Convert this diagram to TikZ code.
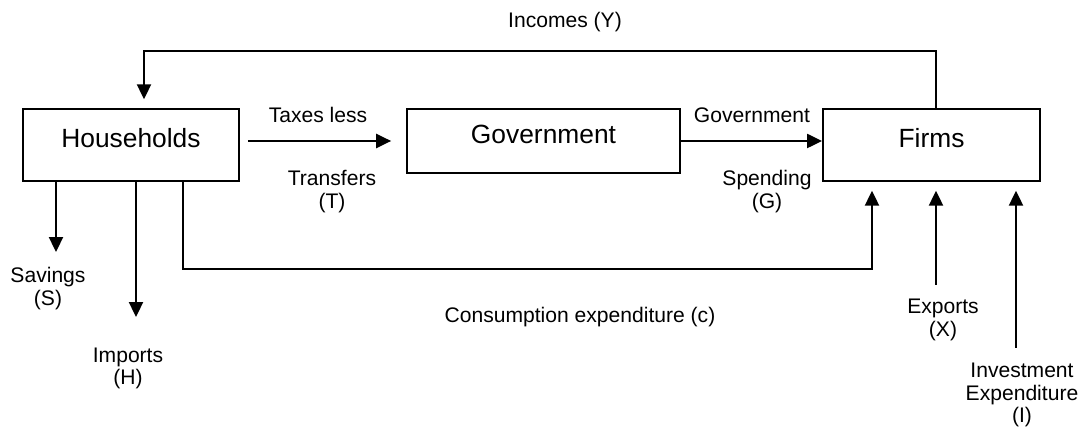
\documentclass[tikz,border=0pt]{standalone}
\usepackage{fontspec}
\setmainfont{Liberation Sans}
\usetikzlibrary{
    arrows.meta,
    positioning,
    calc
}
\tikzset{
    sector/.style = {
        rectangle,
        draw,
        line width=1.1pt,
        minimum height=1.44cm,
        font=\fontsize{15}{18}\selectfont,
        text height=11pt,
        text depth=8pt
    },
    flowlabel/.style = {
        align=center,
        inner sep=0pt,
        font=\fontsize{12}{13}\selectfont
    },
    arrow/.style = {
        -{Triangle[length=8.5pt,width=8pt]},
        line width=1.1pt
    }
}

\begin{document}
\begin{tikzpicture}[x=0.02cm, y=-0.02cm]
\useasboundingbox (0,0) rectangle (1083,431);

\node (hh) [sector, minimum width=4.32cm] at (131,145) {Households};
\node (gov) [sector, minimum width=5.46cm, minimum height=1.28cm] at (543.5,141) {Government};
\node (firms) [sector, minimum width=4.34cm] at (931.5,145) {Firms};

\node (incomes) [flowlabel] at (565,22) {Incomes (Y)};
\node (taxes) [flowlabel] at (318,115) {Taxes less};
\node (transfers) [flowlabel] at (332,191.5) {Transfers\\(T)};
\node (govspend) [flowlabel] at (752,115) {Government};
\node (spending) [flowlabel] at (767,191.5) {Spending\\(G)};
\node (savings) [flowlabel] at (48,288.5) {Savings\\(S)};
\node (imports) [flowlabel] at (128,368.5) {Imports\\(H)};
\node (consumption) [flowlabel] at (580,317) {Consumption expenditure (c)};
\node (exports) [flowlabel] at (943,320) {Exports\\(X)};
\node (invest) [flowlabel] at (1022,395) {Investment\\Expenditure\\(I)};

\coordinate (inc) at (144,51);
\coordinate (cl) at (183,269);
\coordinate (cr) at (872,269);
\coordinate (sv) at (56,252);
\coordinate (im) at (136,317);
\coordinate (ex) at (936,285);
\coordinate (iv) at (1016,348);

\draw [arrow, shorten >=5pt] ([xshift=2.5pt]firms.north) |- (inc) -- (inc |- hh.north);
\draw [arrow, shorten <=4.5pt, shorten >=8.5pt] (hh.east |- gov.west) -- (gov.west);
\draw [arrow] (gov.east) -- (gov.east -| firms.west);
\draw [arrow, shorten >=5pt] (cl |- hh.south) -- (cl) -- (cr) -- (cr |- firms.south);
\draw [arrow] (sv |- hh.south) -- (sv);
\draw [arrow] (im |- hh.south) -- (im);
\draw [arrow, shorten >=5pt] (ex) -- (ex |- firms.south);
\draw [arrow, shorten >=5pt] (iv) -- (iv |- firms.south);
\end{tikzpicture}
\end{document}
